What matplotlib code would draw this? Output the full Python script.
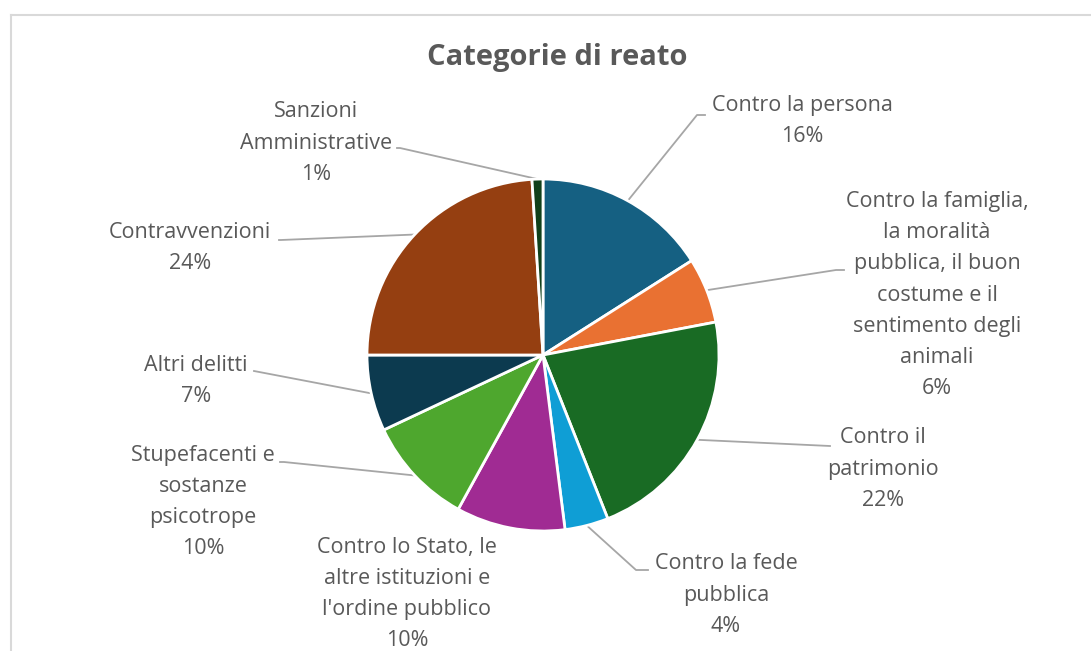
import numpy as np
import matplotlib
matplotlib.use("Agg")
import matplotlib.pyplot as plt
from matplotlib.lines import Line2D

categorie = [
    "Contro la persona",
    "Contro la famiglia,\nla moralità\npubblica, il buon\ncostume e il\nsentimento degli\nanimali",
    "Contro il\npatrimonio",
    "Contro la fede\npubblica",
    "Contro lo Stato, le\naltre istituzioni e\nl'ordine pubblico",
    "Stupefacenti e\nsostanze\npsicotrope",
    "Altri delitti",
    "Contravvenzioni",
    "Sanzioni\nAmministrative",
]
valori = [16, 6, 22, 4, 10, 10, 7, 24, 1]
colori = ["#156082", "#e97132", "#196b24", "#0f9ed5", "#a02b93",
          "#4ea72e", "#0c3a4f", "#953f11", "#10401a"]

# label layout in pixels (text centre, leader line elbow, stub direction)
W, H = 1091, 651
cx, cy, R = 543, 355, 176
label_pos = [(802, 121), (937, 295), (883, 469), (726, 595), (407, 594),
             (203, 502), (196, 381), (190, 248), (316, 143)]
line_end = [(697, 115), (836, 270), (830, 446), (636, 570), None,
            (284, 462), (254, 371), (281, 240), (400, 148)]
stub = [8, 8, 0, 12, 0, -4, 0, -2, -3]


def px(p):
    return ((p[0] - cx) / R, (cy - p[1]) / R)


fig = plt.figure(figsize=(W / 100, H / 100), dpi=100)
ax = fig.add_axes([0, 0, 1, 1])

wedges, _ = ax.pie(valori, colors=colori, startangle=90, counterclock=False,
                   radius=1, center=(0, 0), frame=True,
                   wedgeprops=dict(edgecolor="white", linewidth=2))
ax.set_xlim(-cx / R, (W - cx) / R)
ax.set_ylim((cy - H) / R, cy / R)
ax.axis("off")

tot = sum(valori)
for w, nome, v, pos, end, s in zip(wedges, categorie, valori, label_pos, line_end, stub):
    tx, ty = px(pos)
    ax.text(tx, ty, f"{nome}\n{round(100 * v / tot)}%", ha="center", va="center",
            multialignment="center", fontsize=15.5, color="#595959",
            family="Open Sans", linespacing=1.64)
    if end is not None:
        ang = np.deg2rad((w.theta1 + w.theta2) / 2)
        ex, ey = px(end)
        ax.plot([np.cos(ang), ex, ex + s / R], [np.sin(ang), ey, ey],
                color="#a6a6a6", lw=1.3, zorder=0)

fig.text(557 / W, 1 - 58 / H, "Categorie di reato", ha="center", va="center",
         fontsize=21, fontweight="bold", color="#595959", family="Open Sans")

# chart frame
fig.add_artist(Line2D([11 / W, 11 / W], [0, 1 - 15 / H], color="#d9d9d9", lw=1.5,
                      transform=fig.transFigure))
fig.add_artist(Line2D([11 / W, 1], [1 - 15 / H, 1 - 15 / H], color="#d9d9d9", lw=1.5,
                      transform=fig.transFigure))

fig.savefig("out.png", dpi=100, facecolor="white")
